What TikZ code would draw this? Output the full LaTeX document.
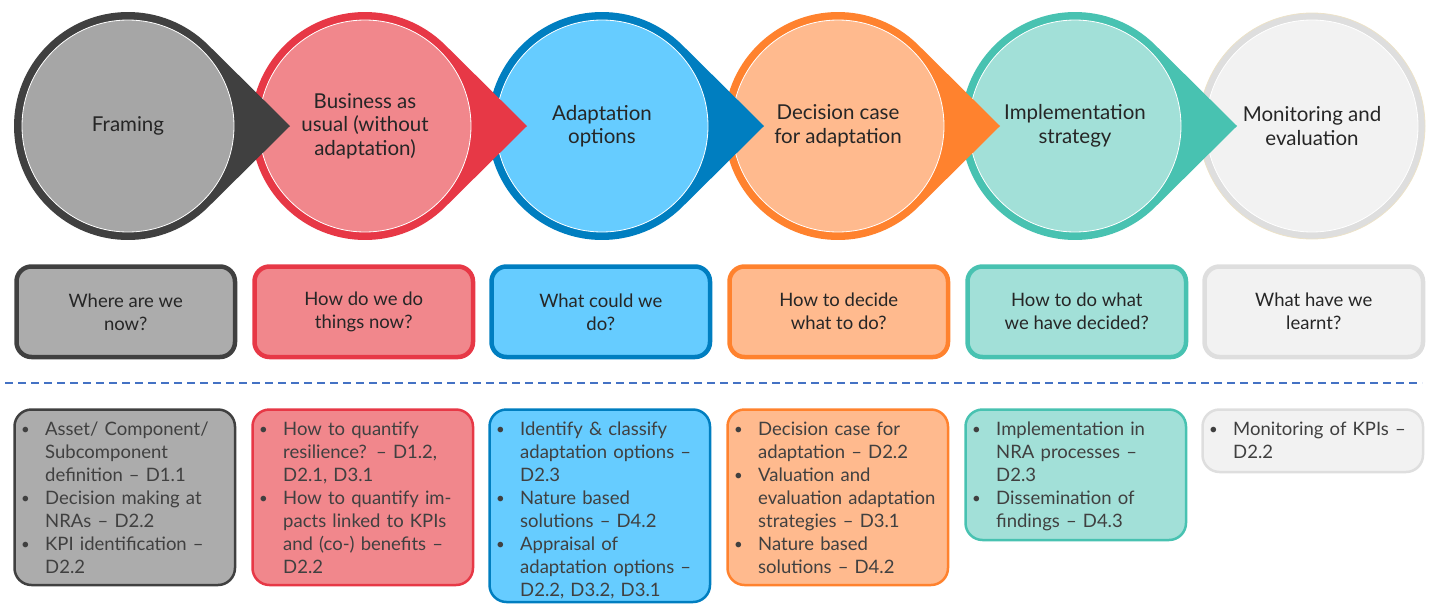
\documentclass[tikz,border=0pt]{standalone}
\usepackage{fontspec}
\setmainfont{Lato}

% stage colours: ring / fill
\definecolor{frRing}{RGB}{64,64,64}
\definecolor{frFill}{RGB}{166,166,166}
\definecolor{frBox}{RGB}{172,172,172}
\definecolor{buRing}{RGB}{231,56,70}
\definecolor{buFill}{RGB}{241,135,140}
\definecolor{adRing}{RGB}{0,126,192}
\definecolor{adFill}{RGB}{102,204,255}
\definecolor{deRing}{RGB}{255,130,46}
\definecolor{deFill}{RGB}{255,186,142}
\definecolor{imRing}{RGB}{72,194,177}
\definecolor{imFill}{RGB}{162,224,216}
\definecolor{moRing}{RGB}{222,222,222}
\definecolor{moFill}{RGB}{242,242,242}
\definecolor{moEdge}{RGB}{236,226,200}
\definecolor{ink}{RGB}{38,38,38}
\definecolor{inkSoft}{RGB}{64,64,64}
\definecolor{ruleBlue}{RGB}{68,114,196}

% teardrop stage: #1 x centre, #2 ring colour, #3 fill colour, #4 node name, #5 label
\newcommand{\stagedrop}[5]{%
  \fill[#2] (#1,126) ++(45.3:114pt) arc[start angle=45.3,end angle=314.7,radius=114pt]
        -- (#1+162,126) -- cycle;
  \node[disc, fill=#3] (#4) at (#1,126) {#5};
}
% bullet items with hanging indent
\newcommand{\bulmark}{\makebox[24pt][l]{\raisebox{1.2pt}{\fontsize{15}{15}\selectfont\textbullet}}}
\newcommand{\bulfirst}{\hangindent=24pt\hangafter=1\strut\bulmark}
\newcommand{\bul}{\par\hangindent=24pt\hangafter=1\noindent\bulmark}

\tikzset{
  disc/.style={circle, minimum size=212pt, inner sep=0pt, draw=white, line width=0.8pt,
    align=center, text=ink, font=\fontsize{20.5}{23.5}\selectfont},
  qbox/.style={rectangle, rounded corners=15pt, line width=4.5pt, anchor=north west,
    minimum width=218.5pt, minimum height=90.5pt, inner sep=0pt, align=center,
    text=ink, font=\fontsize{18.5}{23}\selectfont},
  infobox/.style={rectangle, rounded corners=17pt, line width=2.5pt, anchor=north west,
    minimum width=220.5pt, inner sep=0pt},
  infotext/.style={anchor=north west, inner sep=0pt, text width=215pt, align=left,
    text=inkSoft, font=\fontsize{18.5}{23}\selectfont},
  dashrule/.style={draw=ruleBlue, line width=1.2pt, dash pattern=on 8pt off 5pt}
}

\begin{document}
\begin{tikzpicture}[x=1pt,y=-1pt]
\useasboundingbox (0,0) rectangle (1430,603);
\clip (0,0) rectangle (1430,603);

% ---- stage circles, drawn right to left so each pointer overlaps its successor
\fill[moRing] (1312,126) circle[radius=113pt];
\draw[moEdge, line width=0.8pt] (1312,126) circle[radius=113pt];
\node[disc, fill=moFill] (s6) at (1312,126) {Monitoring and\\evaluation};
\stagedrop{1075}{imRing}{imFill}{s5}{Implementation\\strategy}
\stagedrop{838}{deRing}{deFill}{s4}{Decision case\\for adaptation}
\stagedrop{602}{adRing}{adFill}{s3}{Adaptation\\options}
\stagedrop{365}{buRing}{buFill}{s2}{Business as\\usual (without\\adaptation)}
\stagedrop{128}{frRing}{frFill}{s1}{Framing}

% ---- question boxes
\node[qbox, draw=frRing, fill=frBox] (q1) at (14.25,264.25) {Where are we\\now?};
\node[qbox, draw=buRing, fill=buFill] (q2) at (252.25,264.25) {How do we do\\things now?};
\node[qbox, draw=adRing, fill=adFill] (q3) at (489.25,264.25) {What could we\\do?};
\node[qbox, draw=deRing, fill=deFill] (q4) at (727.25,264.25) {How to decide\\what to do?};
\node[qbox, draw=imRing, fill=imFill] (q5) at (965.25,264.25) {How to do what\\we have decided?};
\node[qbox, draw=moRing, fill=moFill] (q6) at (1202.25,264.25) {What have we\\learnt?};

% ---- separator
\coordinate (ruleL) at (5,383);
\coordinate (ruleR) at (1422,383);
\draw[dashrule] (ruleL) -- (ruleR);

% ---- deliverable boxes
\node[infobox, draw=frRing, fill=frBox, minimum height=175.5pt] (d1) at (13.25,408.25) {};
\node[infobox, draw=buRing, fill=buFill, minimum height=175.5pt] (d2) at (251.25,408.25) {};
\node[infobox, draw=adRing, fill=adFill, minimum height=192.5pt] (d3) at (488.25,408.25) {};
\node[infobox, draw=deRing, fill=deFill, minimum height=175.5pt] (d4) at (726.25,408.25) {};
\node[infobox, draw=imRing, fill=imFill, minimum height=130.5pt] (d5) at (964.25,408.25) {};
\node[infobox, draw=moRing, fill=moFill, minimum height=62.5pt] (d6) at (1201.25,408.25) {};

\node[infotext] (t1) at (21,419.5) {%
  \bulfirst Asset/ Component/\newline Subcomponent\newline definition – D1.1
  \bul Decision making at\newline NRAs – D2.2
  \bul KPI identification –\newline D2.2\par};
\node[infotext] (t2) at (259,419.5) {%
  \bulfirst How to quantify\newline resilience? – D1.2,\newline D2.1, D3.1
  \bul How to quantify im-\newline pacts linked to KPIs\newline and (co-) benefits –\newline D2.2\par};
\node[infotext] (t3) at (496,419.5) {%
  \bulfirst Identify \& classify\newline adaptation options –\newline D2.3
  \bul Nature based\newline solutions – D4.2
  \bul Appraisal of\newline adaptation options –\newline D2.2, D3.2, D3.1\par};
\node[infotext] (t4) at (734,419.5) {%
  \bulfirst Decision case for\newline adaptation – D2.2
  \bul Valuation and\newline evaluation adaptation\newline strategies – D3.1
  \bul Nature based\newline solutions – D4.2\par};
\node[infotext] (t5) at (972,419.5) {%
  \bulfirst Implementation in\newline NRA processes –\newline D2.3
  \bul Dissemination of\newline findings – D4.3\par};
\node[infotext] (t6) at (1209,419.5) {%
  \bulfirst Monitoring of KPIs –\newline D2.2\par};
\end{tikzpicture}
\end{document}
